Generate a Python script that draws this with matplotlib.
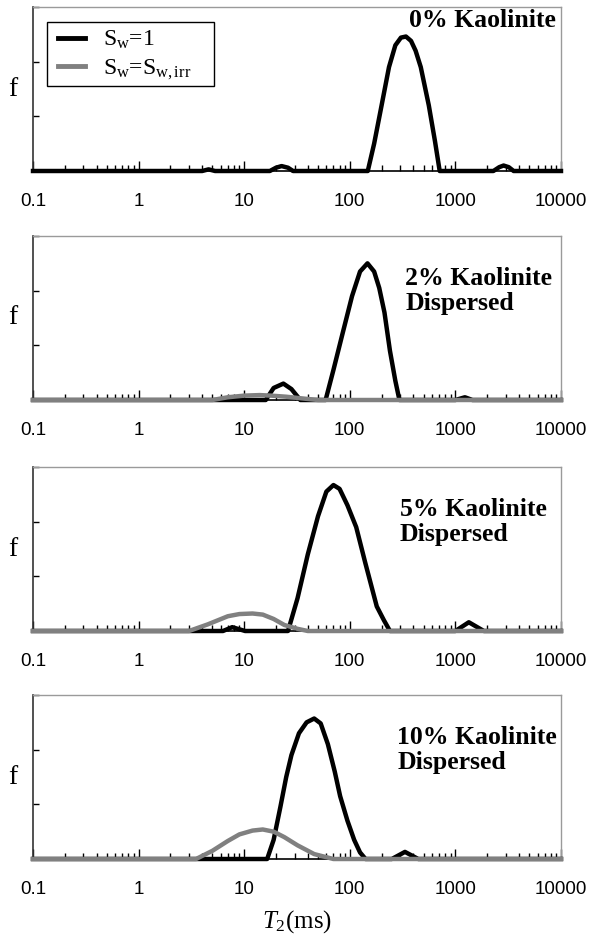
import matplotlib
matplotlib.use('Agg')
import matplotlib.pyplot as plt
from matplotlib.lines import Line2D
from matplotlib.patches import Rectangle
from matplotlib.ticker import LogLocator, NullFormatter

plt.rcParams['font.family'] = ['Liberation Sans', 'DejaVu Sans']
plt.rcParams['mathtext.fontset'] = 'custom'
plt.rcParams['mathtext.rm'] = 'Liberation Serif'
plt.rcParams['mathtext.it'] = 'Liberation Serif:italic'
plt.rcParams['mathtext.bf'] = 'Liberation Serif:bold'

# ---------------- data ----------------
x_ticks = [0.1, 1, 10, 100, 1000, 10000]
x_tick_labels = ['0.1', '1', '10', '100', '1000', '10000']

titles = ['0% Kaolinite', '2% Kaolinite\nDispersed', '5% Kaolinite\nDispersed', '10% Kaolinite\nDispersed']

# panel 1: 0% Kaolinite
t2_p1_sw1 = [0.1, 4.0, 4.6, 5.3, 17.5, 20, 22.6, 26, 29, 148, 170, 200, 235, 270, 305, 340, 380, 420, 470, 560, 640, 710, 2290, 2600, 2860, 3200, 3560, 10000]
f_p1_sw1 = [0, 0, 0.03, 0, 0, 0.06, 0.09, 0.06, 0, 0, 0.5, 1.2, 1.9, 2.3, 2.44, 2.46, 2.38, 2.2, 1.9, 1.2, 0.55, 0, 0, 0.07, 0.1, 0.07, 0, 0]

# panel 2: 2% Kaolinite dispersed
t2_p2_sw1 = [0.1, 16, 19, 23.5, 28, 34, 59, 70, 85, 105, 125, 147, 170, 190, 213, 240, 270, 295, 1000, 1230, 1450, 10000]
f_p2_sw1 = [0, 0, 0.22, 0.3, 0.2, 0, 0, 0.55, 1.2, 1.9, 2.35, 2.5, 2.35, 2.05, 1.6, 0.9, 0.35, 0, 0, 0.05, 0, 0]
t2_p2_irr = [0.1, 5, 7, 10, 14, 18, 25, 35, 50, 10000]
f_p2_irr = [0, 0, 0.05, 0.08, 0.09, 0.08, 0.06, 0.03, 0, 0]

# panel 3: 5% Kaolinite dispersed
t2_p3_sw1 = [0.1, 6.3, 7.7, 10.2, 26, 32, 40, 50, 60, 70, 80, 95, 115, 140, 180, 210, 240, 1000, 1340, 1860, 10000]
f_p3_sw1 = [0, 0, 0.07, 0, 0, 0.6, 1.4, 2.1, 2.55, 2.67, 2.6, 2.3, 1.9, 1.25, 0.45, 0.2, 0, 0, 0.16, 0, 0]
t2_p3_irr = [0.1, 3.0, 4.5, 7, 9, 12, 15, 19, 24, 32, 40, 10000]
f_p3_irr = [0, 0, 0.12, 0.27, 0.31, 0.32, 0.3, 0.22, 0.11, 0.04, 0, 0]

# panel 4: 10% Kaolinite dispersed
t2_p4_sw1 = [0.1, 16.5, 19, 22, 25, 28, 33, 39, 46, 53, 62, 72, 81, 95, 110, 125, 141, 250, 333, 445, 10000]
f_p4_sw1 = [0, 0, 0.35, 0.95, 1.5, 1.9, 2.3, 2.5, 2.57, 2.48, 2.1, 1.6, 1.15, 0.7, 0.35, 0.12, 0, 0, 0.13, 0, 0]
t2_p4_irr = [0.1, 3.5, 5, 7, 9, 12, 15, 19, 24, 32, 46, 70, 10000]
f_p4_irr = [0, 0, 0.15, 0.33, 0.45, 0.52, 0.54, 0.5, 0.4, 0.25, 0.09, 0, 0]

legend_labels = ['S$_{\\mathrm{w}}$=1', 'S$_{\\mathrm{w}}$=S$_{\\mathrm{w,irr}}$']

panels = [
    (t2_p1_sw1, f_p1_sw1, None, None),
    (t2_p2_sw1, f_p2_sw1, t2_p2_irr, f_p2_irr),
    (t2_p3_sw1, f_p3_sw1, t2_p3_irr, f_p3_irr),
    (t2_p4_sw1, f_p4_sw1, t2_p4_irr, f_p4_irr),
]

# ---------------- layout ----------------
W, H = 589, 939
fig = plt.figure(figsize=(W / 100, H / 100), dpi=100)
left_px, width_px, height_px = 33, 528, 164
bottoms_px = [171, 400, 631, 859]
black = '#000000'
gray = '#808080'
serif = ['Liberation Serif', 'DejaVu Serif']

for i, (ts, fs, tg, fg) in enumerate(panels):
    b = bottoms_px[i]
    ax = fig.add_axes([left_px / W, 1 - b / H, width_px / W, height_px / H])
    ax.set_xscale('log')
    ax.plot(ts, fs, color=black, lw=3.2, clip_on=False, zorder=3, solid_joinstyle='round')
    if tg is not None:
        ax.plot(tg, fg, color=gray, lw=3.2, clip_on=False, zorder=4, solid_joinstyle='round')
    ax.set_xlim(0.1, 10000)
    ax.set_ylim(0, 3)
    ax.set_xticks(x_ticks)
    ax.set_xticklabels(x_tick_labels)
    ax.xaxis.set_minor_locator(LogLocator(base=10, subs=range(2, 10), numticks=30))
    ax.xaxis.set_minor_formatter(NullFormatter())
    ax.set_yticks([0, 1, 2, 3])
    ax.set_yticklabels([])
    ax.tick_params(axis='x', which='major', direction='in', length=7, width=1, pad=16, labelsize=13.5)
    ax.tick_params(axis='x', which='minor', direction='in', length=4, width=1)
    ax.tick_params(axis='y', which='major', direction='in', length=4, width=1)
    for s in ['top', 'right']:
        ax.spines[s].set_color('#9a9a9a')
        ax.spines[s].set_linewidth(1.0)
    ax.spines['left'].set_color('#333333')
    ax.spines['left'].set_linewidth(1.2)
    ax.spines['bottom'].set_color(black)
    ax.spines['bottom'].set_linewidth(1.2)

    # y label "f"
    fig.text(13 / W, 1 - (b - height_px / 2) / H, 'f', family=serif, fontsize=20,
             ha='center', va='center')

    if i == 0:
        ax.text(0.99, 0.92, titles[i], transform=ax.transAxes, family=serif,
                fontweight='bold', fontsize=18.5, ha='right', va='center')
        # legend frame
        ax.add_patch(Rectangle((0.027, 0.52), 0.316, 0.39, transform=ax.transAxes,
                               facecolor='white', edgecolor='black', lw=1.0, zorder=5))
        handles = [Line2D([], [], color=black, lw=3.5), Line2D([], [], color=gray, lw=3.5)]
        leg = ax.legend(handles, legend_labels, loc='upper left', bbox_to_anchor=(0.047, 0.865),
                        borderaxespad=0, frameon=False,
                        prop={'family': serif, 'size': 17}, handlelength=1.15,
                        handletextpad=0.75, labelspacing=0.28, borderpad=0.0)
        leg.set_zorder(6)
    else:
        xs = [0.705, 0.695, 0.69][i - 1]
        ax.text(xs, 0.665, titles[i], transform=ax.transAxes, family=serif,
                fontweight='bold', fontsize=18.5, ha='left', va='center', linespacing=1.1)

fig.text(297 / W, 1 - 922 / H, '$T_2$(ms)', family=serif, fontsize=18, ha='center', va='center')

fig.savefig('out.png', dpi=100)
